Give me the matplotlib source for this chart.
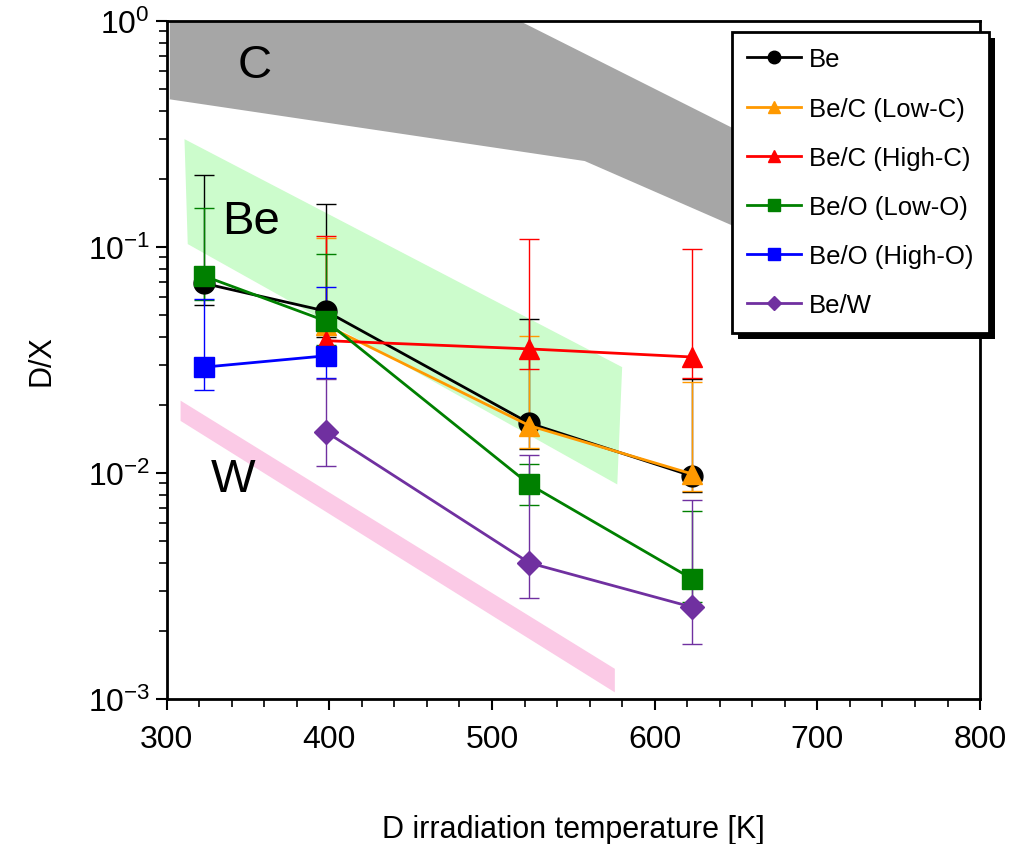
import matplotlib.pyplot as plt
from matplotlib.patches import Rectangle
from matplotlib.transforms import IdentityTransform
from matplotlib.ticker import MultipleLocator, LogLocator, NullFormatter

plt.rcParams['font.family'] = ['Liberation Sans', 'DejaVu Sans']

# shaded reference bands (temperature, D/X)
c_band_t = [302, 517, 643, 800, 800, 646, 557, 302]
c_band_y = [1.0, 1.0, 0.35, 0.095, 0.042, 0.126, 0.24, 0.45]
be_band_t = [311, 580, 577, 313]
be_band_y = [0.30, 0.0294, 0.0089, 0.103]
w_band_t = [308.6, 575.5, 575.5, 308.6]
w_band_y = [0.0209, 0.00136, 0.00107, 0.0170]

# data series: temperature, value, lower end, upper end of error bar
be_t = [323, 398, 523, 623]
be_v = [0.069, 0.052, 0.0166, 0.0097]
be_lo = [0.0554, 0.040, 0.0128, 0.0082]
be_hi = [0.208, 0.155, 0.048, 0.026]

lowc_t = [398, 523, 623]
lowc_v = [0.045, 0.0162, 0.0099]
lowc_lo = [0.035, 0.0129, 0.0083]
lowc_hi = [0.110, 0.0405, 0.0253]

highc_t = [398, 523, 623]
highc_v = [0.0385, 0.0354, 0.0326]
highc_lo = [0.030, 0.0289, 0.0263]
highc_hi = [0.112, 0.108, 0.098]

lowo_t = [323, 398, 523, 623]
lowo_v = [0.0744, 0.047, 0.0089, 0.0034]
lowo_lo = [0.058, 0.037, 0.0072, 0.0027]
lowo_hi = [0.149, 0.093, 0.011, 0.0068]

higho_t = [323, 398]
higho_v = [0.0294, 0.033]
higho_lo = [0.0233, 0.0263]
higho_hi = [0.059, 0.0665]

bew_t = [398, 523, 623]
bew_v = [0.0152, 0.0040, 0.00255]
bew_lo = [0.0107, 0.0028, 0.00175]
bew_hi = [0.026, 0.012, 0.0076]

fig = plt.figure(figsize=(10.22, 8.45), dpi=100)
ax = fig.add_axes([0.163, 0.1716, 0.796, 0.8024])

ax.fill(c_band_t, c_band_y, color='#a6a6a6', lw=0, zorder=1)
ax.fill(be_band_t, be_band_y, color='#ccfccc', lw=0, zorder=1)
ax.fill(w_band_t, w_band_y, color='#fbcae6', lw=0, zorder=1)

ax.text(354, 0.64, 'C', fontsize=34, ha='center', va='center', zorder=2)
ax.text(352, 0.13, 'Be', fontsize=34, ha='center', va='center', zorder=2)
ax.text(341, 0.0094, 'W', fontsize=34, ha='center', va='center', zorder=2)

series = [
    (be_t, be_v, be_lo, be_hi, 'black', 'o', 15, 'Be'),
    (lowc_t, lowc_v, lowc_lo, lowc_hi, '#ff9900', '^', 15, 'Be/C (Low-C)'),
    (highc_t, highc_v, highc_lo, highc_hi, '#ff0000', '^', 15, 'Be/C (High-C)'),
    (lowo_t, lowo_v, lowo_lo, lowo_hi, '#008000', 's', 15, 'Be/O (Low-O)'),
    (higho_t, higho_v, higho_lo, higho_hi, '#0000ff', 's', 15, 'Be/O (High-O)'),
    (bew_t, bew_v, bew_lo, bew_hi, '#7030a0', 'D', 12, 'Be/W'),
]

handles = []
for i, (t, v, lo, hi, col, mk, ms, lab) in enumerate(series):
    err = [[a - b for a, b in zip(v, lo)], [b - a for a, b in zip(v, hi)]]
    ax.errorbar(t, v, yerr=err, fmt='none', ecolor=col, elinewidth=1,
                capsize=7, capthick=1, zorder=3 + i)
    h, = ax.plot(t, v, color=col, lw=2, marker=mk, markersize=ms,
                 label=lab, zorder=10 + i)
    handles.append(h)

ax.set_xlim(300, 800)
ax.set_yscale('log')
ax.set_ylim(1e-3, 1)
ax.xaxis.set_major_locator(MultipleLocator(100))
ax.xaxis.set_minor_locator(MultipleLocator(20))
ax.yaxis.set_major_locator(LogLocator(base=10, numticks=10))
ax.yaxis.set_minor_locator(LogLocator(base=10, subs=range(2, 10), numticks=10))
ax.yaxis.set_minor_formatter(NullFormatter())

ax.tick_params(axis='both', which='major', direction='out', length=8, width=1.5,
               labelsize=23)
ax.tick_params(axis='x', which='major', pad=10)
ax.tick_params(axis='y', which='major', pad=4)
ax.tick_params(axis='both', which='minor', direction='out', length=5.5, width=1.2)
for s in ax.spines.values():
    s.set_linewidth(2)

ax.set_xlabel('D irradiation temperature [K]', fontsize=22, labelpad=43)
ax.set_ylabel('D/X', fontsize=22, labelpad=22)

leg = ax.legend(handles=handles, loc='upper left',
                bbox_to_anchor=(732 / 1022, 1 - 33 / 845),
                bbox_transform=fig.transFigure, fontsize=18.5,
                frameon=True, fancybox=False, edgecolor='black',
                framealpha=1, markerscale=0.6, handlelength=2.1,
                labelspacing=0.98, borderpad=0.6, borderaxespad=0,
                handletextpad=0.3)
leg.get_frame().set_linewidth(2)
leg.set_zorder(30)

# offset black shadow behind the legend box
fig.canvas.draw()
bb = leg.get_window_extent()
ax.add_patch(Rectangle((bb.x0 + 6, bb.y0 - 6), bb.width, bb.height,
                       transform=IdentityTransform(), facecolor='black',
                       edgecolor='none', zorder=29, clip_on=False))

fig.savefig('out.png', dpi=100)
